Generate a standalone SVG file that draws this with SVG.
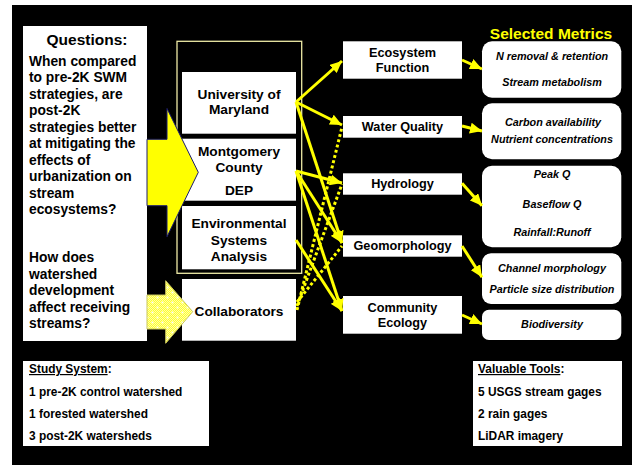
<svg xmlns="http://www.w3.org/2000/svg" width="632" height="465" viewBox="0 0 632 465">
  <style>
    text { font-family: "Liberation Sans", Arial, sans-serif; font-weight: bold; fill: #000; }
    .q { font-size: 13.8px; }
    .qh { font-size: 15.5px; text-anchor: middle; }
    .org { font-size: 13.7px; text-anchor: middle; }
    .cat { font-size: 12.7px; text-anchor: middle; }
    .met { font-size: 10.8px; font-style: italic; text-anchor: middle; }
    .title { font-size: 15.5px; text-anchor: middle; fill: #ffff00; }
    .low { font-size: 11.9px; }
    .box { fill: #fff; }
    .link { stroke: #ffff00; stroke-width: 3; fill: none; marker-end: url(#head); }
    .dot { stroke: #ffff00; stroke-width: 3; fill: none; stroke-dasharray: 3 2.4; }
  </style>
  <defs>
    <marker id="head" markerUnits="userSpaceOnUse" markerWidth="13" markerHeight="11" refX="12" refY="5.5" orient="auto">
      <path d="M0,0 L12,5.5 L0,11 Z" fill="#ffff00"/>
    </marker>
    <pattern id="chk" width="2" height="2" patternUnits="userSpaceOnUse">
      <rect width="2" height="2" fill="#ffff2e"/>
      <rect width="1" height="1" fill="#ffffa8"/>
      <rect x="1" y="1" width="1" height="1" fill="#ffffa8"/>
    </pattern>
    <pattern id="speck" width="10" height="10" patternUnits="userSpaceOnUse">
      <rect width="10" height="10" fill="url(#chk)"/>
      <path d="M2.5,1.5 V3.5 M1.5,2.5 H3.5 M7.5,6.5 V8.5 M6.5,7.5 H8.5" stroke="#fff" stroke-width="0.8"/>
    </pattern>
  </defs>

  <!-- backdrop -->
  <rect width="632" height="465" fill="#fff"/>
  <rect x="12" y="5" width="620" height="460" fill="#000"/>

  <!-- questions panel -->
  <g id="questions">
    <rect class="box" x="23" y="26" width="124" height="315"/>
    <text class="qh" x="87" y="45">Questions:</text>
    <text class="q" x="29" y="65.7">
      <tspan x="29">When compared</tspan>
      <tspan x="29" dy="16.5">to pre-2K SWM</tspan>
      <tspan x="29" dy="16.5">strategies, are</tspan>
      <tspan x="29" dy="16.5">post-2K</tspan>
      <tspan x="29" dy="16.5">strategies better</tspan>
      <tspan x="29" dy="16.5">at mitigating the</tspan>
      <tspan x="29" dy="16.5">effects of</tspan>
      <tspan x="29" dy="16.5">urbanization on</tspan>
      <tspan x="29" dy="16.5">stream</tspan>
      <tspan x="29" dy="16.5">ecosystems?</tspan>
    </text>
    <text class="q" x="29" y="262">
      <tspan x="29">How does</tspan>
      <tspan x="29" dy="16.5">watershed</tspan>
      <tspan x="29" dy="16.5">development</tspan>
      <tspan x="29" dy="16.5">affect receiving</tspan>
      <tspan x="29" dy="16.5">streams?</tspan>
    </text>
  </g>

  <!-- partner frame -->
  <rect x="177" y="41.3" width="124.7" height="232" fill="none" stroke="#eeeaa6" stroke-width="1.3"/>

  <g id="umd">
    <rect class="box" x="182" y="72" width="114" height="61.7"/>
    <text class="org" x="239" y="99">University of</text>
    <text class="org" x="239" y="114.3">Maryland</text>
  </g>
  <g id="mcdep">
    <rect class="box" x="182" y="138.7" width="114" height="62"/>
    <text class="org" x="239" y="155.7">Montgomery</text>
    <text class="org" x="239" y="171.7">County</text>
    <text class="org" x="239" y="194.5">DEP</text>
  </g>
  <g id="esa">
    <rect class="box" x="182" y="206" width="114" height="63.3"/>
    <text class="org" x="239" y="228.3">Environmental</text>
    <text class="org" x="239" y="245">Systems</text>
    <text class="org" x="239" y="261">Analysis</text>
  </g>
  <g id="collab">
    <rect class="box" x="182" y="279" width="114" height="61.7"/>
    <text class="org" x="239" y="315.7">Collaborators</text>
  </g>

  <!-- block arrows -->
  <g id="arrow-main">
    <path d="M147,139.3 L167,139.3 L167,108.5 L198.3,172.3 L167,236.7 L167,205.7 L147,205.7 Z" fill="#ffff00" stroke="#1c1c6e" stroke-width="1"/>
  </g>
  <g id="arrow-collab">
    <path d="M147,295 L165.7,295 L165.7,280.7 L192.7,311.7 L165.7,343.3 L165.7,329 L147,329 Z" fill="url(#speck)" stroke="#c9c65a" stroke-width="1"/>
  </g>

  <!-- study categories -->
  <g id="ecosystem-function">
    <rect class="box" x="343" y="41.3" width="119" height="37.4"/>
    <text class="cat" x="402.5" y="56.7">Ecosystem</text>
    <text class="cat" x="402.5" y="71.7">Function</text>
  </g>
  <g id="water-quality">
    <rect class="box" x="343" y="116" width="119" height="21.7"/>
    <text class="cat" x="402.5" y="130.6">Water Quality</text>
  </g>
  <g id="hydrology">
    <rect class="box" x="343" y="173.3" width="119" height="21.4"/>
    <text class="cat" x="402.5" y="188">Hydrology</text>
  </g>
  <g id="geomorphology">
    <rect class="box" x="343" y="235.3" width="119" height="21.4"/>
    <text class="cat" x="402.5" y="250.2">Geomorphology</text>
  </g>
  <g id="community-ecology">
    <rect class="box" x="343" y="296" width="119" height="37.7"/>
    <text class="cat" x="402.5" y="311.7">Community</text>
    <text class="cat" x="402.5" y="327.3">Ecology</text>
  </g>

  <!-- metrics -->
  <text class="title" x="551" y="39">Selected Metrics</text>
  <g id="metrics-function">
    <rect class="box" x="482" y="41.3" width="139.3" height="56.4" rx="10"/>
    <text class="met" x="552" y="60">N removal &amp; retention</text>
    <text class="met" x="552" y="85.7">Stream metabolism</text>
  </g>
  <g id="metrics-quality">
    <rect class="box" x="482" y="103.3" width="139.3" height="56" rx="10"/>
    <text class="met" x="553" y="126">Carbon availability</text>
    <text class="met" x="552" y="143.3">Nutrient concentrations</text>
  </g>
  <g id="metrics-hydrology">
    <rect class="box" x="482" y="165.7" width="139.3" height="81.6" rx="10"/>
    <text class="met" x="552" y="178.3">Peak Q</text>
    <text class="met" x="552" y="207.7">Baseflow Q</text>
    <text class="met" x="552" y="236">Rainfall:Runoff</text>
  </g>
  <g id="metrics-geomorphology">
    <rect class="box" x="482" y="253.3" width="139.3" height="50.7" rx="9"/>
    <text class="met" x="552" y="271.7">Channel morphology</text>
    <text class="met" x="552" y="292.7">Particle size distribution</text>
  </g>
  <g id="metrics-ecology">
    <rect class="box" x="482" y="309.7" width="139.3" height="30.3" rx="7"/>
    <text class="met" x="552" y="328.3">Biodiversity</text>
  </g>

  <!-- connectors -->
  <g id="connectors">
    <line class="link" x1="296" y1="102" x2="342" y2="61"/>
    <line class="link" x1="296" y1="102" x2="342" y2="125"/>
    <line class="link" x1="296" y1="102" x2="342" y2="243"/>
    <line class="link" x1="296" y1="171" x2="342" y2="183"/>
    <line class="link" x1="296" y1="171" x2="342" y2="243"/>
    <line class="link" x1="296" y1="171" x2="342" y2="311"/>
    <line class="link" x1="296" y1="240" x2="342" y2="311"/>
    <line class="dot" x1="297" y1="310" x2="342" y2="127"/>
    <line class="dot" x1="297" y1="306" x2="342" y2="184"/>
    <line class="dot" x1="297" y1="302" x2="342" y2="246"/>
    <line class="link" x1="462" y1="60" x2="482" y2="69"/>
    <line class="link" x1="462" y1="126" x2="482" y2="131"/>
    <line class="link" x1="462" y1="183.3" x2="482" y2="205.7"/>
    <line class="link" x1="462" y1="246" x2="482" y2="277.3"/>
    <line class="link" x1="462" y1="315" x2="482" y2="324"/>
  </g>

  <!-- bottom panels -->
  <g id="study-system">
    <rect class="box" x="23" y="361" width="186" height="85"/>
    <text class="low" x="29" y="373"><tspan text-decoration="underline">Study System</tspan>:</text>
    <text class="low" x="29" y="396">1 pre-2K control watershed</text>
    <text class="low" x="29" y="418">1 forested watershed</text>
    <text class="low" x="29" y="440">3 post-2K watersheds</text>
  </g>
  <g id="valuable-tools">
    <rect class="box" x="473" y="361" width="149" height="85"/>
    <text class="low" x="478" y="373"><tspan text-decoration="underline">Valuable Tools</tspan>:</text>
    <text class="low" x="478" y="396">5 USGS stream gages</text>
    <text class="low" x="478" y="418">2 rain gages</text>
    <text class="low" x="478" y="440">LiDAR imagery</text>
  </g>
</svg>
